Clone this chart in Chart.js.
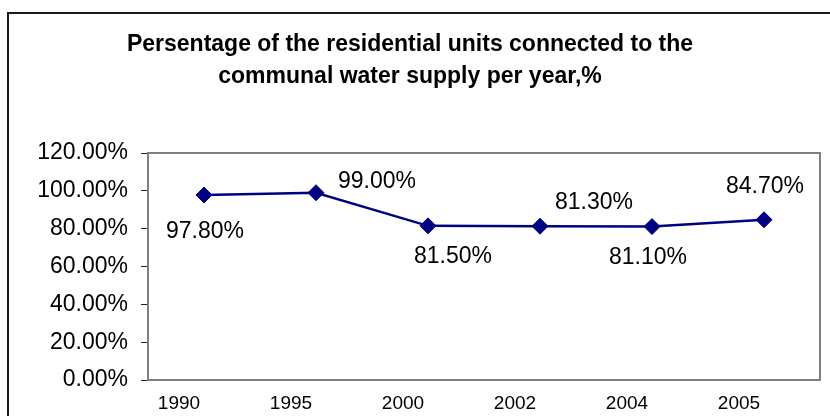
<!DOCTYPE html>
<html>
<head>
<meta charset="utf-8">
<script src="https://cdn.jsdelivr.net/npm/chart.js@4/dist/chart.umd.min.js"></script>
<style>
  html, body { margin: 0; padding: 0; background: #fff; overflow: hidden; }
  #wrap { position: relative; width: 830px; height: 416px; }
  #frame { position: absolute; left: 7px; top: 12px; width: 900px; height: 500px;
           border: 2px solid #1a1a1a; pointer-events: none; }
</style>
</head>
<body>
<div id="wrap">
  <canvas id="chart" width="830" height="416"></canvas>
  <div id="frame"></div>
</div>
<script>
const years = ['1990', '1995', '2000', '2002', '2004', '2005'];
const connectedPct = [97.8, 99.0, 81.5, 81.3, 81.1, 84.7];
const yTicks = [0, 20, 40, 60, 80, 100, 120];

const titleLines = [
  'Persentage of the residential units connected to the',
  'communal water supply per year,%'
];

const FONT = "'Liberation Sans', Arial, sans-serif";

// label placement relative to each point (dx, dy in px), like the hand-moved excel labels
const labelShift = [[1, 37], [61, -11], [25, 31], [54, -24], [-4, 31], [1, -33]];

const plotFrame = {
  id: 'plotFrame',
  afterDatasetsDraw(chart) {
    const { ctx, chartArea: a } = chart;
    ctx.save();
    ctx.strokeStyle = '#808080';
    ctx.lineWidth = 2;
    ctx.strokeRect(a.left, a.top, a.right - a.left, a.bottom - a.top);
    ctx.restore();
  }
};

const valueLabels = {
  id: 'valueLabels',
  afterDraw(chart) {
    const ctx = chart.ctx;
    const meta = chart.getDatasetMeta(0);
    ctx.save();
    ctx.font = '23px ' + FONT;
    ctx.fillStyle = '#000';
    ctx.textAlign = 'center';
    ctx.textBaseline = 'middle';
    meta.data.forEach((pt, i) => {
      const s = labelShift[i];
      ctx.fillText(connectedPct[i].toFixed(2) + '%', pt.x + s[0], pt.y + s[1]);
    });
    ctx.restore();
  }
};

new Chart(document.getElementById('chart'), {
  type: 'line',
  data: {
    labels: years,
    datasets: [{
      data: connectedPct,
      borderColor: '#000080',
      backgroundColor: '#000080',
      borderWidth: 2.5,
      pointStyle: 'rectRot',
      pointRadius: 8,
      pointBorderWidth: 1,
      pointBackgroundColor: '#000080',
      pointBorderColor: '#000080',
      tension: 0,
      fill: false
    }]
  },
  options: {
    responsive: false,
    animation: false,
    layout: { padding: { top: 0, left: 0, right: 10, bottom: 0 } },
    plugins: {
      legend: { display: false },
      tooltip: { enabled: false },
      title: {
        display: true,
        text: titleLines,
        color: '#000',
        font: { family: FONT, size: 23, weight: 'bold', lineHeight: 32 / 23 },
        padding: { top: 29, bottom: 60 }
      }
    },
    scales: {
      x: {
        offset: true,
        grid: { display: false, drawTicks: false },
        border: { display: false },
        ticks: {
          color: '#000',
          padding: 12,
          labelOffset: -25,
          maxRotation: 0,
          autoSkip: false,
          font: { family: FONT, size: 19 }
        },
        afterFit(scale) { scale.height = 36; }
      },
      y: {
        min: 0,
        max: 120,
        afterBuildTicks(scale) { scale.ticks = yTicks.map(v => ({ value: v })); },
        grid: { drawOnChartArea: false, drawTicks: true, tickLength: 7, color: '#222' },
        border: { display: true, color: '#808080', width: 2 },
        ticks: {
          color: '#000',
          padding: 13,
          font: { family: FONT, size: 23 },
          callback: v => v.toFixed(2) + '%'
        },
        afterFit(scale) { scale.width = 148; }
      }
    }
  },
  plugins: [plotFrame, valueLabels]
});
</script>
</body>
</html>
